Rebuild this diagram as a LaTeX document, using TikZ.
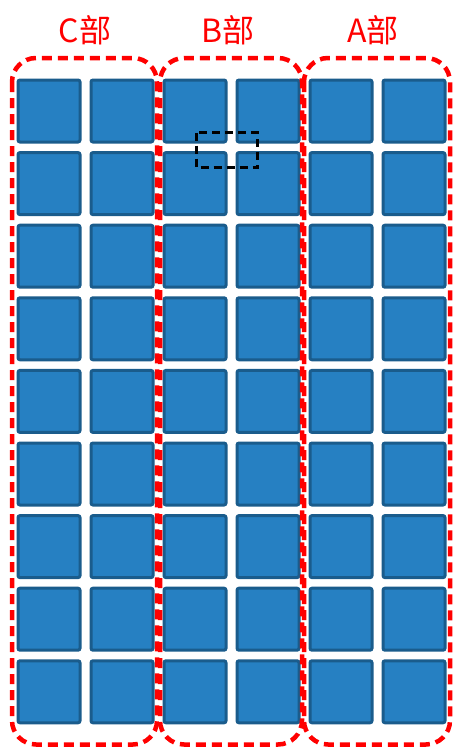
\documentclass[tikz,border=0pt]{standalone}
\usepackage{fontspec}
\newfontfamily\cjk{Noto Sans CJK SC}
\definecolor{sqfill}{RGB}{38,128,194}
\definecolor{sqedge}{RGB}{26,92,140}
\begin{document}
\begin{tikzpicture}[x=1pt,y=-1pt,
  cell/.style={draw=sqedge, line width=3pt, fill=sqfill, rounded corners=2pt, minimum width=62pt, minimum height=62pt, inner sep=0pt, anchor=north west},
  part/.style={draw=red, line width=4.5pt, dash pattern=on 10pt off 6pt, rounded corners=24pt},
  lbl/.style={text=red, font=\cjk\fontsize{32}{32}\selectfont, inner sep=0pt},
  sel/.style={draw=black, line width=2.5pt, dash pattern=on 8pt off 5pt}]
\useasboundingbox (0,0) rectangle (453,747);
\foreach \i in {0,...,5}{
  \foreach \j in {0,...,8}{
    \node[cell] (s-\i-\j) at ({16.5+73*\i},{78.5+72.6*\j}) {};
  }
}
\draw[part] (12,58) rectangle (157,744.5);
\draw[part] (160,58) rectangle (302,744.5);
\draw[part] (304,58) rectangle (450,744.5);
\node[lbl] (lc) at (85,30) {C部};
\node[lbl] (lb) at (228,30) {B部};
\node[lbl] (la) at (373,30) {A部};
\draw[sel] (196.5,132.5) rectangle (257.5,167.5);
\end{tikzpicture}
\end{document}
